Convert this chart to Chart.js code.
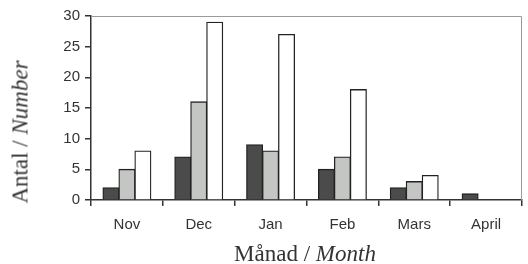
<!DOCTYPE html>
<html>
<head>
<meta charset="utf-8">
<script src="https://cdn.jsdelivr.net/npm/chart.js@4"></script>
<style>
  html, body { margin: 0; padding: 0; background: #fff; }
  #wrap { position: relative; width: 528px; height: 264px; overflow: hidden; }
  canvas { position: absolute; left: 0; top: 0; }
  .ttl { position: absolute; font-family: "Liberation Serif", "Times New Roman", serif; font-size: 23px; color: #333; white-space: nowrap; line-height: 1; }
  #ytitle { left: 20px; top: 132px; transform: translate(-50%, -50%) rotate(-90deg); }
  #xtitle { left: 305px; top: 242px; transform: translateX(-50%); }
</style>
</head>
<body>
<div id="wrap">
  <canvas id="c" width="528" height="264"></canvas>
  <div class="ttl" id="ytitle">Antal / <i>Number</i></div>
  <div class="ttl" id="xtitle">Månad / <i>Month</i></div>
</div>
<script>
const categories = ["Nov", "Dec", "Jan", "Feb", "Mars", "April"];
const seriesDark = [2, 7, 9, 5, 2, 1];
const seriesLight = [5, 16, 8, 7, 3, 0];
const seriesWhite = [8, 29, 27, 18, 4, 0];
const yTicks = [0, 5, 10, 15, 20, 25, 30];

const framePlugin = {
  id: 'frame',
  afterDraw(chart) {
    const { ctx, chartArea: a } = chart;
    ctx.save();
    ctx.strokeStyle = '#9a9a9a';
    ctx.lineWidth = 1;
    ctx.beginPath();
    ctx.moveTo(a.left, a.top + 0.5);
    ctx.lineTo(a.right - 0.5, a.top + 0.5);
    ctx.lineTo(a.right - 0.5, a.bottom);
    ctx.stroke();
    ctx.restore();
  }
};

const common = { borderColor: '#222', borderWidth: 1.3, barPercentage: 1.0, categoryPercentage: 0.667, borderSkipped: 'bottom', inflateAmount: 0.5 };

new Chart(document.getElementById('c'), {
  type: 'bar',
  data: {
    labels: categories,
    datasets: [
      Object.assign({ data: seriesDark, backgroundColor: '#4b4b4b' }, common),
      Object.assign({ data: seriesLight, backgroundColor: '#c4c6c4' }, common),
      Object.assign({ data: seriesWhite, backgroundColor: '#ffffff' }, common)
    ]
  },
  options: {
    responsive: false,
    animation: false,
    events: [],
    layout: { padding: { left: 0, right: 6, top: 16, bottom: 0 } },
    plugins: { legend: { display: false }, tooltip: { enabled: false } },
    scales: {
      x: {
        offset: true,
        grid: { offset: true, drawOnChartArea: false, tickLength: 6, color: '#333', lineWidth: 1.5 },
        border: { color: '#333', width: 1.5 },
        ticks: { color: '#333', font: { family: 'Liberation Sans, Arial, sans-serif', size: 15 }, padding: 10, maxRotation: 0 },
        afterFit(s) { s.height = 64; }
      },
      y: {
        min: 0, max: 30,
        afterBuildTicks(s) { s.ticks = yTicks.map(v => ({ value: v })); },
        grid: { drawOnChartArea: false, tickLength: 6, color: '#333', lineWidth: 1.5 },
        border: { color: '#333', width: 1.5 },
        ticks: { color: '#333', font: { family: 'Liberation Sans, Arial, sans-serif', size: 15 }, padding: 5 },
        afterFit(s) { s.width = 91; }
      }
    }
  },
  plugins: [framePlugin]
});
</script>
</body>
</html>
